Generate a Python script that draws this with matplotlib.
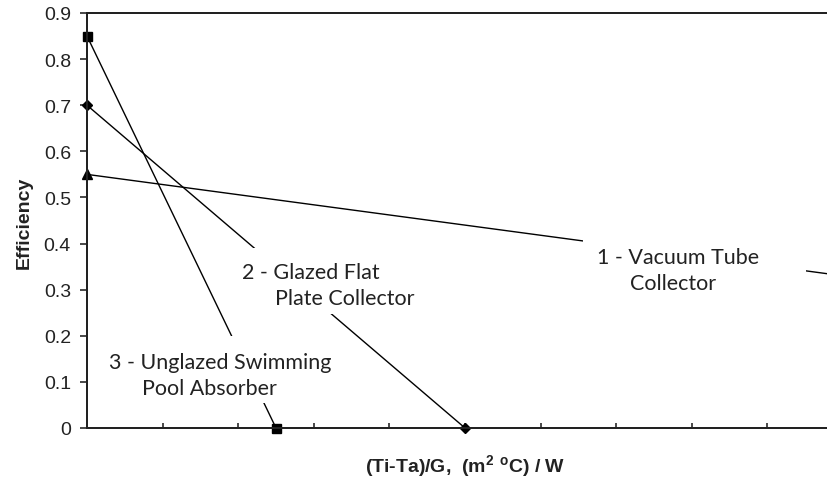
import matplotlib
matplotlib.use("Agg")
import matplotlib.pyplot as plt
from matplotlib.patches import Rectangle

plt.rcParams["mathtext.fontset"] = "custom"
plt.rcParams["mathtext.rm"] = "Liberation Sans"
plt.rcParams["mathtext.bf"] = "Liberation Sans:bold"

# Collector efficiency lines: (Ti-Ta)/G on x, efficiency on y
vacuum_x = [0.0, 0.10]
vacuum_y = [0.55, 0.33]
glazed_x = [0.0, 0.05]
glazed_y = [0.70, 0.0]
pool_x = [0.0, 0.025]
pool_y = [0.85, 0.0]

y_ticks = [0.0, 0.1, 0.2, 0.3, 0.4, 0.5, 0.6, 0.7, 0.8, 0.9]
y_tick_labels = ["0", "0.1", "0.2", "0.3", "0.4", "0.5", "0.6", "0.7", "0.8", "0.9"]
x_ticks = [0.0, 0.01, 0.02, 0.03, 0.04, 0.05, 0.06, 0.07, 0.08, 0.09, 0.10]

label_vacuum = "1 - Vacuum Tube\n      Collector"
label_glazed = "2 - Glazed Flat\n      Plate Collector"
label_pool = "3 - Unglazed Swimming\n      Pool Absorber"

W, H = 828, 481
fig = plt.figure(figsize=(W / 100, H / 100), dpi=100)
fig.patch.set_facecolor("white")


def fx(px):
    return px / W


def fy(py):
    return 1 - py / H


PT = 72 / 100  # points per pixel at 100 dpi

ax = fig.add_axes([fx(87), fy(429), fx(843 - 87), (429 - 14) / H])

line_kw = dict(color="black", lw=1.0, zorder=2, clip_on=False)
ax.plot(vacuum_x, vacuum_y, marker="^", ms=10 * PT, **line_kw)
ax.plot(glazed_x, glazed_y, marker="D", ms=7 * PT, **line_kw)
ax.plot(pool_x, pool_y, marker="s", ms=9 * PT, **line_kw)

ax.set_xlim(0, 0.10)
ax.set_ylim(0, 0.9)
ax.set_yticks(y_ticks)
ax.set_yticklabels(y_tick_labels, fontsize=14, family="Liberation Sans", color="#222222")
ax.set_xticks(x_ticks)
ax.set_xticklabels([])
ax.tick_params(axis="y", direction="out", length=7 * PT, width=1.6 * PT, pad=9 * PT, color="#222222")
ax.tick_params(axis="x", direction="in", length=5 * PT, width=1.6 * PT, color="#222222")
for s in ["left", "bottom", "top", "right"]:
    ax.spines[s].set_linewidth(2 * PT)
    ax.spines[s].set_color("#222222")

# white label boxes sitting over the lines
for (x0, y0, x1, y1) in [(583, 238, 806, 300), (240, 249, 395, 315), (105, 337, 300, 404)]:
    fig.patches.append(Rectangle((fx(x0), fy(y1)), fx(x1 - x0), (y1 - y0) / H,
                                 transform=fig.transFigure, facecolor="white",
                                 edgecolor="none", zorder=3))

txt_kw = dict(family="Lato", fontsize=15.5, color="#222222", ha="left", va="baseline",
              linespacing=1.4, zorder=4)
fig.text(fx(597), fy(290), label_vacuum, **txt_kw)
fig.text(fx(242), fy(305), label_glazed, **txt_kw)
fig.text(fx(109), fy(395), label_pool, **txt_kw)

fig.text(fx(24), fy(223), "Efficiency", rotation=90, ha="center", va="center",
         family="Liberation Sans", fontweight="bold", fontsize=14, color="#222222")
fig.text(fx(465), fy(467), r"(Ti-Ta)/G,  (m$^\mathbf{2}$ $^\mathbf{o}$C) / W", ha="center", va="center",
         family="Liberation Sans", fontweight="bold", fontsize=14, color="#222222")

fig.savefig("out.png", dpi=100, facecolor="white")
